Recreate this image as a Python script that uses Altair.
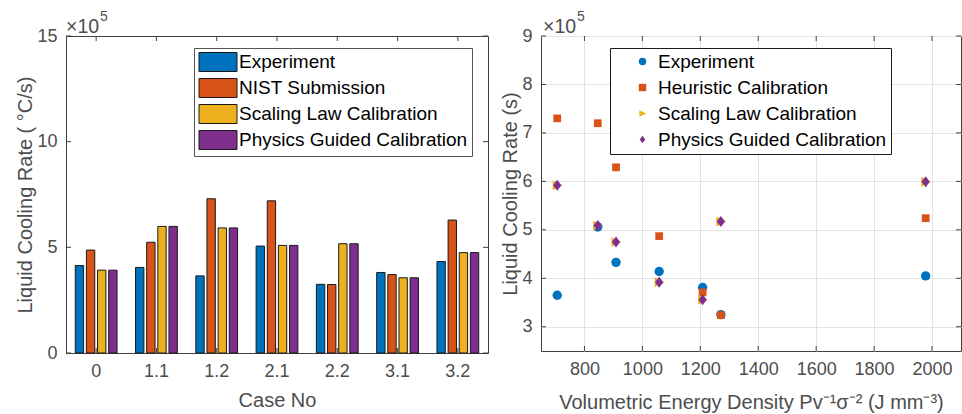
import altair as alt
import pandas as pd

# ---- data (values in units of 1e5) ----
cases = ["0", "1.1", "1.2", "2.1", "2.2", "3.1", "3.2"]
ved = [1058, 1978, 706, 846, 1271, 1208, 909]
experiment = [4.14, 4.05, 3.65, 5.06, 3.25, 3.81, 4.33]
nist = [4.87, 5.24, 7.30, 7.20, 3.24, 3.71, 6.29]
scaling = [3.92, 5.99, 5.92, 5.09, 5.17, 3.56, 4.75]
physics = [3.92, 5.99, 5.92, 5.09, 5.17, 3.56, 4.75]

bar_series = ["Experiment", "NIST Submission", "Scaling Law Calibration", "Physics Guided Calibration"]
pt_series = ["Experiment", "Heuristic Calibration", "Scaling Law Calibration", "Physics Guided Calibration"]
colors = ["#0072BD", "#D95319", "#EDB120", "#7E2F8E"]

left_yticks = [0, 5, 10, 15]
right_yticks = [3, 4, 5, 6, 7, 8, 9]
right_xticks = [800, 1000, 1200, 1400, 1600, 1800, 2000]

series_values = [experiment, nist, scaling, physics]

bar_rows = []
for s, vals in zip(bar_series, series_values):
    for c, v in zip(cases, vals):
        bar_rows.append({"case": c, "bseries": s, "value": v})
bar_df = pd.DataFrame(bar_rows)

pt_rows = []
for s, vals in zip(pt_series, series_values):
    for x, v in zip(ved, vals):
        pt_rows.append({"ved": x, "pseries": s, "value": v})
pt_df = pd.DataFrame(pt_rows)

FONT = "Liberation Sans"
AX = "#404040"
LBL = "#4d4d4d"
W1, H1 = 422, 317
W2, H2 = 420, 315
TL = 5

# ---- left: grouped bars ----
bars = alt.Chart(bar_df).mark_bar(stroke="#1a1a1a", strokeWidth=1).encode(
    x=alt.X("case:N", sort=cases,
            scale=alt.Scale(paddingInner=0.27, paddingOuter=0.135),
            axis=alt.Axis(title="Case No", labelAngle=0, labelPadding=9, titlePadding=10)),
    xOffset=alt.XOffset("bseries:N", sort=bar_series,
                        scale=alt.Scale(domain=bar_series, paddingInner=0.25, paddingOuter=0.1)),
    y=alt.Y("value:Q", scale=alt.Scale(domain=[0, 15], nice=False, zero=True),
            axis=alt.Axis(values=left_yticks, title="Liquid Cooling Rate ( °C/s)",
                          labelPadding=9, titlePadding=1, grid=False)),
    color=alt.Color("bseries:N", sort=bar_series,
                    scale=alt.Scale(domain=bar_series, range=colors),
                    legend=alt.Legend(title=None, orient="none", legendX=128, legendY=12,
                                      fillColor="white", strokeColor="#555555", padding=4,
                                      symbolType="M-2,-1L2,-1L2,1L-2,1Z", symbolSize=361,
                                      symbolStrokeColor="#1a1a1a", symbolStrokeWidth=1,
                                      symbolOffset=10,
                                      labelFontSize=19, labelColor="black", labelFont=FONT,
                                      labelOffset=11, rowPadding=2, labelLimit=400)),
)

lyt = pd.DataFrame({"value": left_yticks})
lxt = pd.DataFrame({"case": cases})
lt_left = alt.Chart(lyt).mark_rule(color=AX).encode(y="value:Q", x=alt.value(0), x2=alt.value(TL))
lt_right = alt.Chart(lyt).mark_rule(color=AX).encode(y="value:Q", x=alt.value(W1 - TL), x2=alt.value(W1))
lt_bot = alt.Chart(lxt).mark_rule(color=AX).encode(x=alt.X("case:N", sort=cases), y=alt.value(H1), y2=alt.value(H1 - TL))
lt_top = alt.Chart(lxt).mark_rule(color=AX).encode(x=alt.X("case:N", sort=cases), y=alt.value(0), y2=alt.value(TL))

exp_df = pd.DataFrame({"t": ["×10"], "s": ["5"]})
l_exp1 = alt.Chart(exp_df).mark_text(align="left", baseline="alphabetic", fontSize=19.5, font=FONT, color=LBL).encode(
    text="t:N", x=alt.value(0), y=alt.value(-3))
l_exp2 = alt.Chart(exp_df).mark_text(align="left", baseline="alphabetic", fontSize=14, font=FONT, color=LBL).encode(
    text="s:N", x=alt.value(34), y=alt.value(-15))

left = alt.layer(bars, lt_left, lt_right, lt_bot, lt_top, l_exp1, l_exp2).properties(width=W1, height=H1)

# ---- right: scatter ----
diamond = "M0,-1L0.75,0L0,1L-0.75,0Z"
tri_right = "M-0.85,-0.9L1,0L-0.85,0.9Z"
shapes = ["circle", "square", tri_right, diamond]
sizes = [88, 60, 115, 121]
pt_legend = alt.Legend(title=None, orient="none", legendX=69, legendY=12,
                       fillColor="white", strokeColor="#1a1a1a", padding=4,
                       symbolSize=55, symbolOffset=19, symbolStrokeWidth=0,
                       labelFontSize=19, labelColor="black", labelFont=FONT,
                       labelOffset=6, rowPadding=6, labelLimit=400)

x_enc = alt.X("ved:Q", scale=alt.Scale(domain=[650, 2100], nice=False, zero=False),
              axis=alt.Axis(values=right_xticks, title="Volumetric Energy Density Pv⁻¹σ⁻² (J mm⁻³)",
                            grid=True, labelPadding=9, titlePadding=14, format="d")),
y_enc = None
y_enc = alt.Y("value:Q", scale=alt.Scale(domain=[2.5, 9], nice=False, zero=False),
              axis=alt.Axis(values=right_yticks, title="Liquid Cooling Rate (s)", grid=True,
                            labelPadding=9, titlePadding=1))
x_enc = x_enc[0]
c_enc = alt.Color("pseries:N", sort=pt_series, scale=alt.Scale(domain=pt_series, range=colors), legend=pt_legend)
s_enc = alt.Shape("pseries:N", sort=pt_series, scale=alt.Scale(domain=pt_series, range=shapes), legend=pt_legend)

point_layers = []
for s, sz in zip(pt_series, sizes):
    point_layers.append(
        alt.Chart(pt_df).transform_filter(alt.datum.pseries == s)
        .mark_point(filled=True, opacity=1, strokeWidth=0, size=sz)
        .encode(x=x_enc, y=y_enc, color=c_enc, shape=s_enc)
    )

ryt = pd.DataFrame({"value": right_yticks})
rxt = pd.DataFrame({"ved": right_xticks})
rt_left = alt.Chart(ryt).mark_rule(color=AX).encode(y="value:Q", x=alt.value(0), x2=alt.value(TL))
rt_right = alt.Chart(ryt).mark_rule(color=AX).encode(y="value:Q", x=alt.value(W2 - TL), x2=alt.value(W2))
rt_bot = alt.Chart(rxt).mark_rule(color=AX).encode(x="ved:Q", y=alt.value(H2), y2=alt.value(H2 - TL))
rt_top = alt.Chart(rxt).mark_rule(color=AX).encode(x="ved:Q", y=alt.value(0), y2=alt.value(TL))
r_exp1 = alt.Chart(exp_df).mark_text(align="left", baseline="alphabetic", fontSize=19.5, font=FONT, color=LBL).encode(
    text="t:N", x=alt.value(2), y=alt.value(-3))
r_exp2 = alt.Chart(exp_df).mark_text(align="left", baseline="alphabetic", fontSize=14, font=FONT, color=LBL).encode(
    text="s:N", x=alt.value(36), y=alt.value(-15))

right = alt.layer(*point_layers, rt_left, rt_right, rt_bot, rt_top, r_exp1, r_exp2).properties(width=W2, height=H2)

chart = alt.hconcat(left, right, spacing=11).resolve_scale(
    color="independent", shape="independent"
).resolve_legend(color="independent", shape="independent").properties(
    padding={"left": 15, "top": 9, "right": 0, "bottom": 0}
).configure_view(stroke=AX, strokeWidth=1).configure_axis(
    labelFont=FONT, titleFont=FONT, labelFontSize=18, titleFontSize=20,
    labelColor=LBL, titleColor=LBL, titleFontWeight="normal",
    domain=False, ticks=False, gridColor="#e3e3e3", gridWidth=1
).configure_legend(labelFont=FONT)

chart.save("out.html", embed_options={"renderer": "svg", "actions": False})
